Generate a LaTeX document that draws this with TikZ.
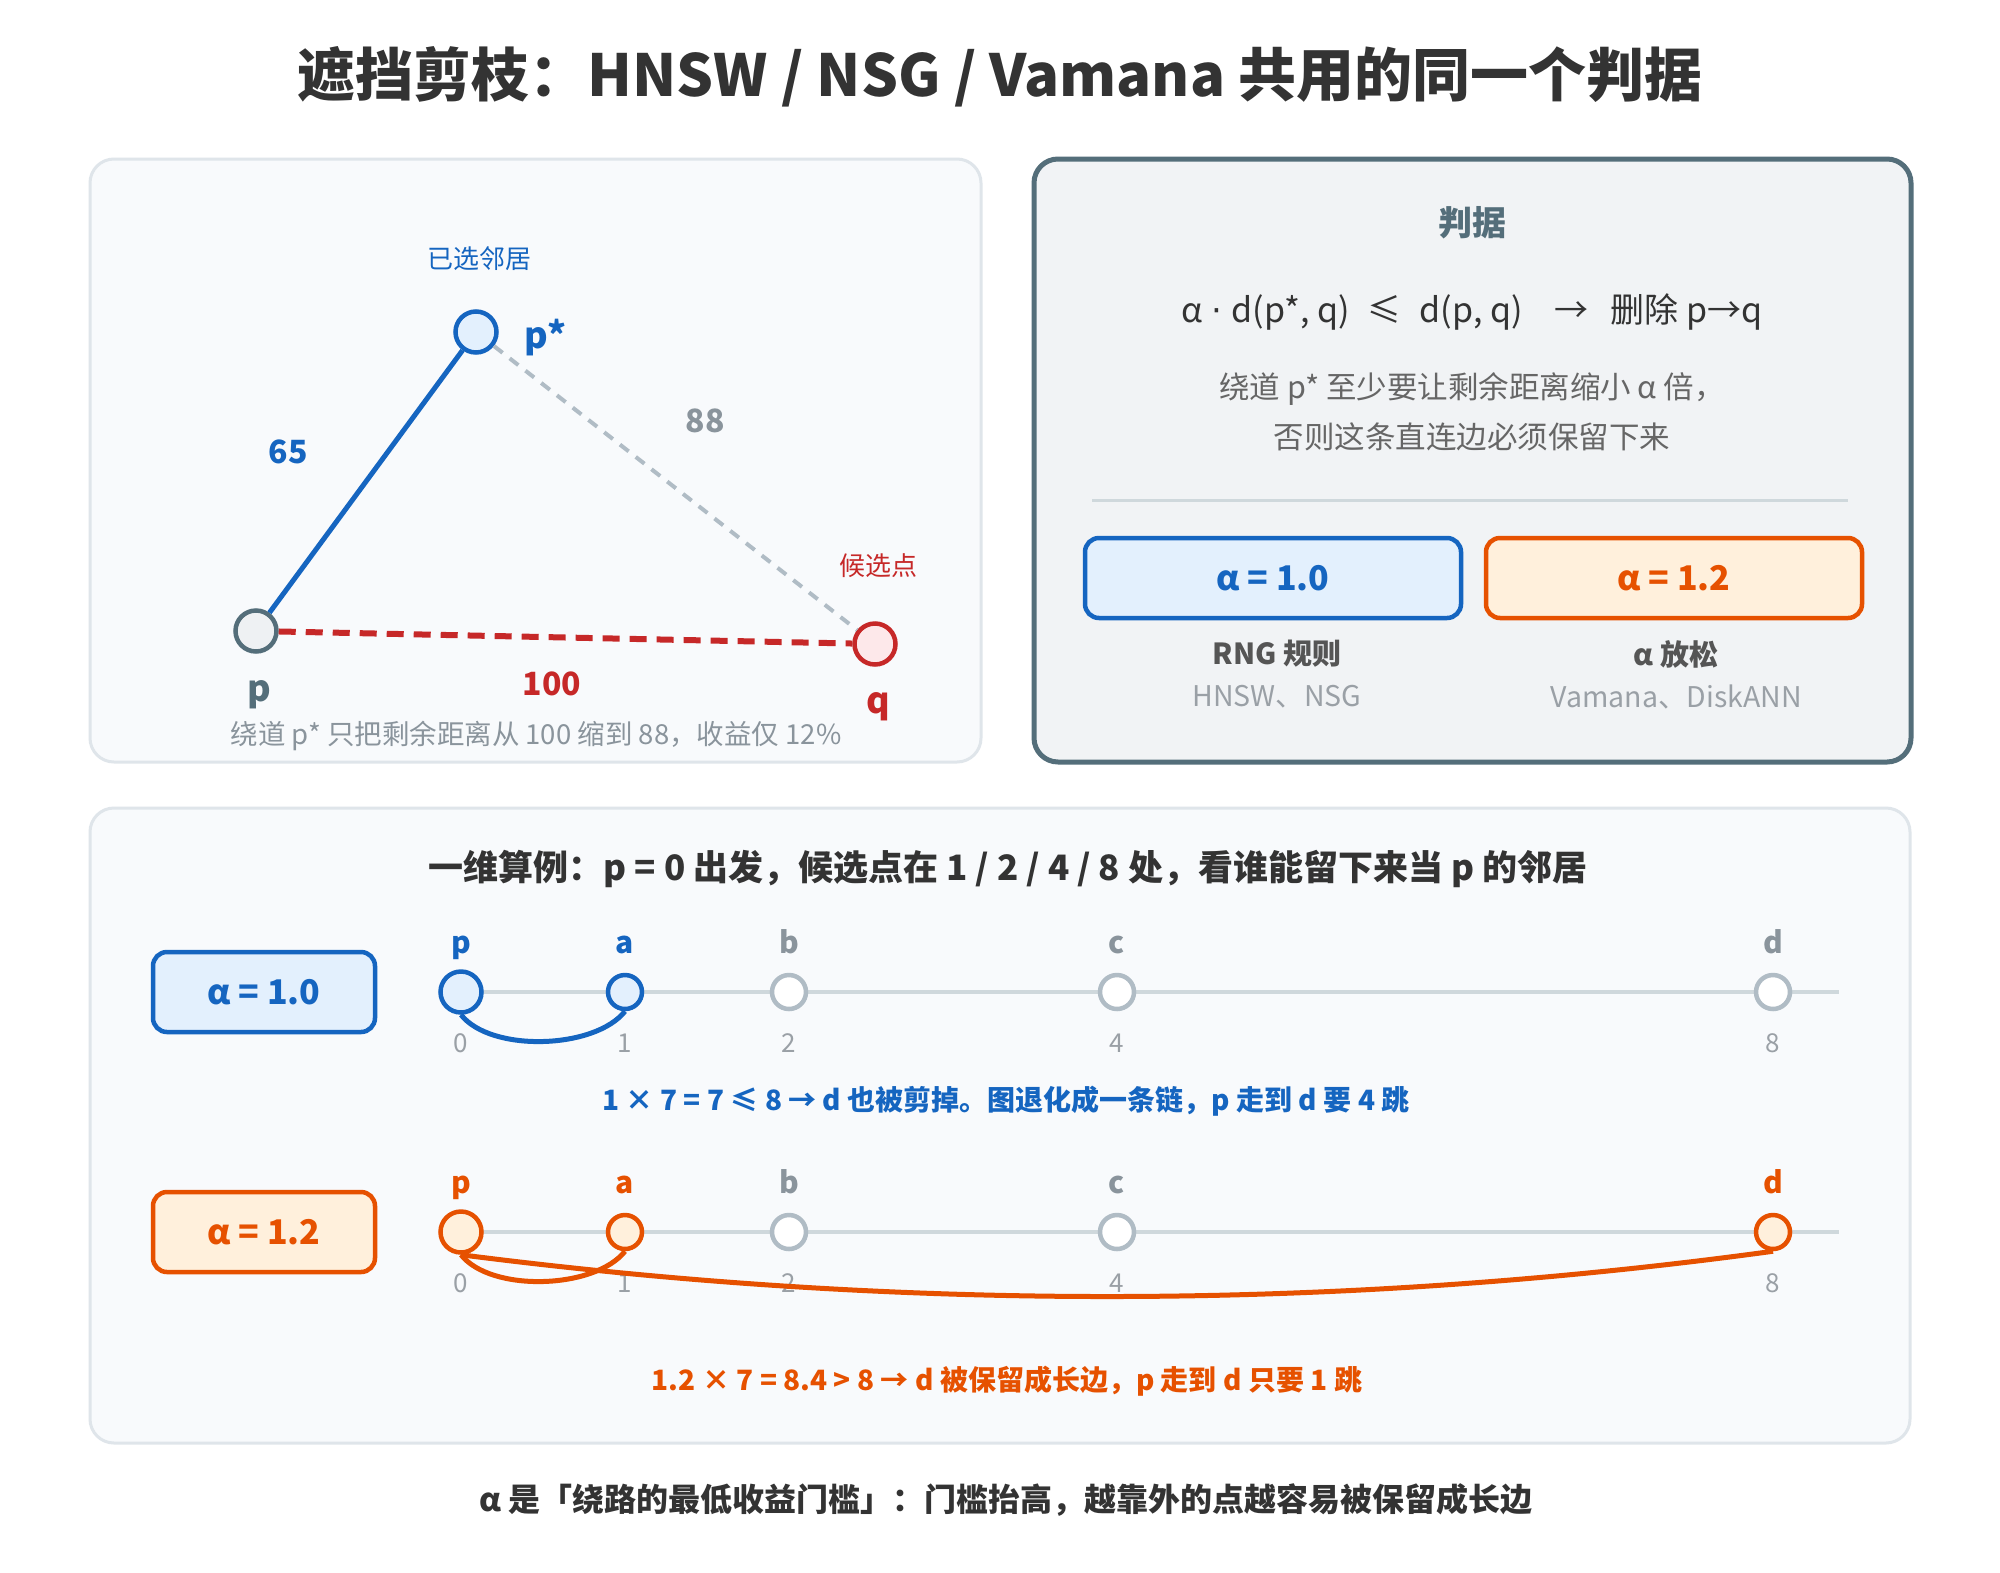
\documentclass[tikz,border=0pt]{standalone}
\usepackage{fontspec}
\setmainfont{Noto Sans CJK SC}
\newfontfamily\symfont{DejaVu Sans}
\usetikzlibrary{positioning}

\definecolor{ink}{HTML}{333333}
\definecolor{cblue}{HTML}{1565C0}
\definecolor{fblue}{HTML}{E3F0FD}
\definecolor{cred}{HTML}{C62828}
\definecolor{fred}{HTML}{FDE8EA}
\definecolor{corange}{HTML}{E65100}
\definecolor{forange}{HTML}{FFF0DC}
\definecolor{cslate}{HTML}{546E7A}
\definecolor{fslate}{HTML}{EEF1F3}
\definecolor{cmute}{HTML}{8A949C}
\definecolor{cidle}{HTML}{B0BCC5}
\definecolor{caxis}{HTML}{CFD8DC}
\definecolor{panelbg}{HTML}{F8FAFC}
\definecolor{panelrule}{HTML}{DFE5EA}
\definecolor{rulebg}{HTML}{F1F3F5}
\definecolor{ctext}{HTML}{666666}
\definecolor{csub}{HTML}{555555}
\definecolor{clight}{HTML}{9AA0A6}

\newcommand{\fsz}[1]{\fontsize{#1}{#1}\selectfont}

\begin{document}
\begin{tikzpicture}[%
  x=1pt, y=-1pt,
  panel/.style={rounded corners=24pt, line width=3pt, draw=panelrule, fill=panelbg},
  vtx/.style={circle, inner sep=0pt, minimum size=#1, line width=4.5pt},
  vtx/.default=41pt,
  hotb/.style={draw=cblue, fill=fblue},
  hoto/.style={draw=corange, fill=forange},
  idle/.style={draw=cidle, fill=white},
  lbl/.style={inner sep=0pt, font=\fsz{#1}\bfseries},
  txt/.style={inner sep=0pt, font=\fsz{#1}},
  abox/.style={rounded corners=14pt, line width=4.5pt, minimum height=80pt, inner sep=0pt, font=\fsz{34}\bfseries},
  axis/.style={caxis, line width=4pt},
]

  \fill[white] (0,0) rectangle (2000,1572);
  \useasboundingbox (0,0) rectangle (2000,1572);

  \node[lbl=58, text=ink] (title) at (1000,77) {遮挡剪枝：HNSW / NSG / Vamana 共用的同一个判据};

  % triangle
  \draw[panel] (90,159) rectangle (981,762);
  \node[vtx, draw=cslate, fill=fslate] (p) at (256,631) {};
  \node[vtx, hotb] (ps) at (476,332) {};
  \node[vtx, draw=cred, fill=fred] (q) at (875,644) {};
  \draw[cidle, line width=4pt, dash pattern=on 11pt off 9pt] (ps) -- (q);
  \draw[cred, line width=6pt, dash pattern=on 17pt off 10pt] (p) -- (q);
  \draw[cblue, line width=5pt] (p) -- (ps);

  \node[txt=26, text=cblue] (pstag) at (479,259) {已选邻居};
  \node[lbl=36, text=cblue, anchor=base west] (psname) at (524,348) {p*};
  \node[lbl=32, text=cblue] (w65) at (288,452) {65};
  \node[lbl=32, text=cmute] (w88) at (705,421) {88};
  \node[txt=26, text=cred] (qtag) at (878,566) {候选点};
  \node[lbl=36, text=cslate, anchor=base] (pname) at (259,701) {p};
  \node[lbl=32, text=cred] (w100) at (552,684) {100};
  \node[lbl=36, text=cred, anchor=base] (qname) at (878,713) {q};
  \node[txt=27.5, text=cmute] (gain) at (536,736) {绕道 p* 只把剩余距离从 100 缩到 88，收益仅 12\%};

  % criterion
  \draw[panel, fill=rulebg, draw=cslate, line width=5pt] (1034,159) rectangle (1911,762);
  \node[lbl=34, text=cslate] (crit) at (1472,223) {判据};
  \node[txt=34, text=ink] (rule) at (1472,312) {α\hspace{9pt}{\symfont ·}\hspace{9pt}d(p*, q)\hspace{18pt}≤\hspace{18pt}d(p, q)\hspace{32pt}→\hspace{22pt}删除 p→q};
  \node[txt=30.5, text=ctext] (why1) at (1472,389) {绕道 p* 至少要让剩余距离缩小 α 倍，};
  \node[txt=30.5, text=ctext] (why2) at (1472,437) {否则这条直连边必须保留下来};
  \draw[caxis, line width=3pt] (1092,500) -- (1848,500);

  \node[abox, hotb, text=cblue, minimum width=376pt] (a10) at (1273,578) {α = 1.0};
  \node[abox, hoto, text=corange, minimum width=376pt] (a12) at (1674,578) {α = 1.2};
  \node[lbl=29, text=csub] (rng) at (1277,654) {RNG 规则};
  \node[txt=28.5, text=clight] (rngu) at (1277,697) {HNSW、NSG};
  \node[lbl=29, text=csub] (rlx) at (1676,654) {α 放松};
  \node[txt=28.5, text=clight] (rlxu) at (1676,697) {Vamana、DiskANN};

  % 1-d example
  \draw[panel] (90,808) rectangle (1910,1443);
  \node[lbl=35, text=ink] (ex) at (1008,869) {一维算例：p = 0 出发，候选点在 1 / 2 / 4 / 8 处，看谁能留下来当 p 的邻居};

  \node[abox, hotb, text=cblue, minimum width=222pt] (k10) at (264,992) {α = 1.0};
  \node[abox, hoto, text=corange, minimum width=222pt] (k12) at (264,1232) {α = 1.2};

  \coordinate (r1s) at (461,992);
  \coordinate (r1e) at (1839,992);
  \coordinate (r2s) at (461,1232);
  \coordinate (r2e) at (1839,1232);
  \draw[axis] (r1s) -- (r1e);
  \draw[axis] (r2s) -- (r2e);

  \foreach \lab/\pos/\sty/\col/\siz in {p/0/hotb/cblue/41pt, a/1/hotb/cblue/34pt, b/2/idle/cmute/34pt, c/4/idle/cmute/34pt, d/8/idle/cmute/34pt}{
    \node[vtx=\siz, \sty] (r1\lab) at ({461+164*\pos},992) {};
    \node[lbl=30, text=\col, anchor=base] at ({461+164*\pos},953) {\lab};
    \node[txt=26, text=clight, anchor=base] at ({461+164*\pos},1052) {\pos};
  }
  \foreach \lab/\pos/\sty/\col/\siz in {p/0/hoto/corange/41pt, a/1/hoto/corange/34pt, b/2/idle/cmute/34pt, c/4/idle/cmute/34pt, d/8/hoto/corange/34pt}{
    \node[vtx=\siz, \sty] (r2\lab) at ({461+164*\pos},1232) {};
    \node[lbl=30, text=\col, anchor=base] at ({461+164*\pos},1193) {\lab};
    \node[txt=26, text=clight, anchor=base] at ({461+164*\pos},1292) {\pos};
  }

  \draw[cblue, line width=5pt] (r1p.south) .. controls +(30,38) and +(-30,38) .. (r1a.south);
  \draw[corange, line width=5pt] (r2p.south) .. controls +(30,38) and +(-30,38) .. (r2a.south);
  \draw[corange, line width=5pt] (r2p.south) .. controls (898,1311) and (1336,1311) .. (r2d.south);

  \node[lbl=28, text=cblue] (res1) at (1006,1101) {1 × 7 = 7 ≤ 8 → d 也被剪掉。图退化成一条链，p 走到 d 要 4 跳};
  \node[lbl=28, text=corange] (res2) at (1007,1381) {1.2 × 7 = 8.4 > 8 → d 被保留成长边，p 走到 d 只要 1 跳};

  \node[lbl=32, text=ink] (moral) at (1006,1500) {α 是「绕路的最低收益门槛」：门槛抬高，越靠外的点越容易被保留成长边};

\end{tikzpicture}
\end{document}
